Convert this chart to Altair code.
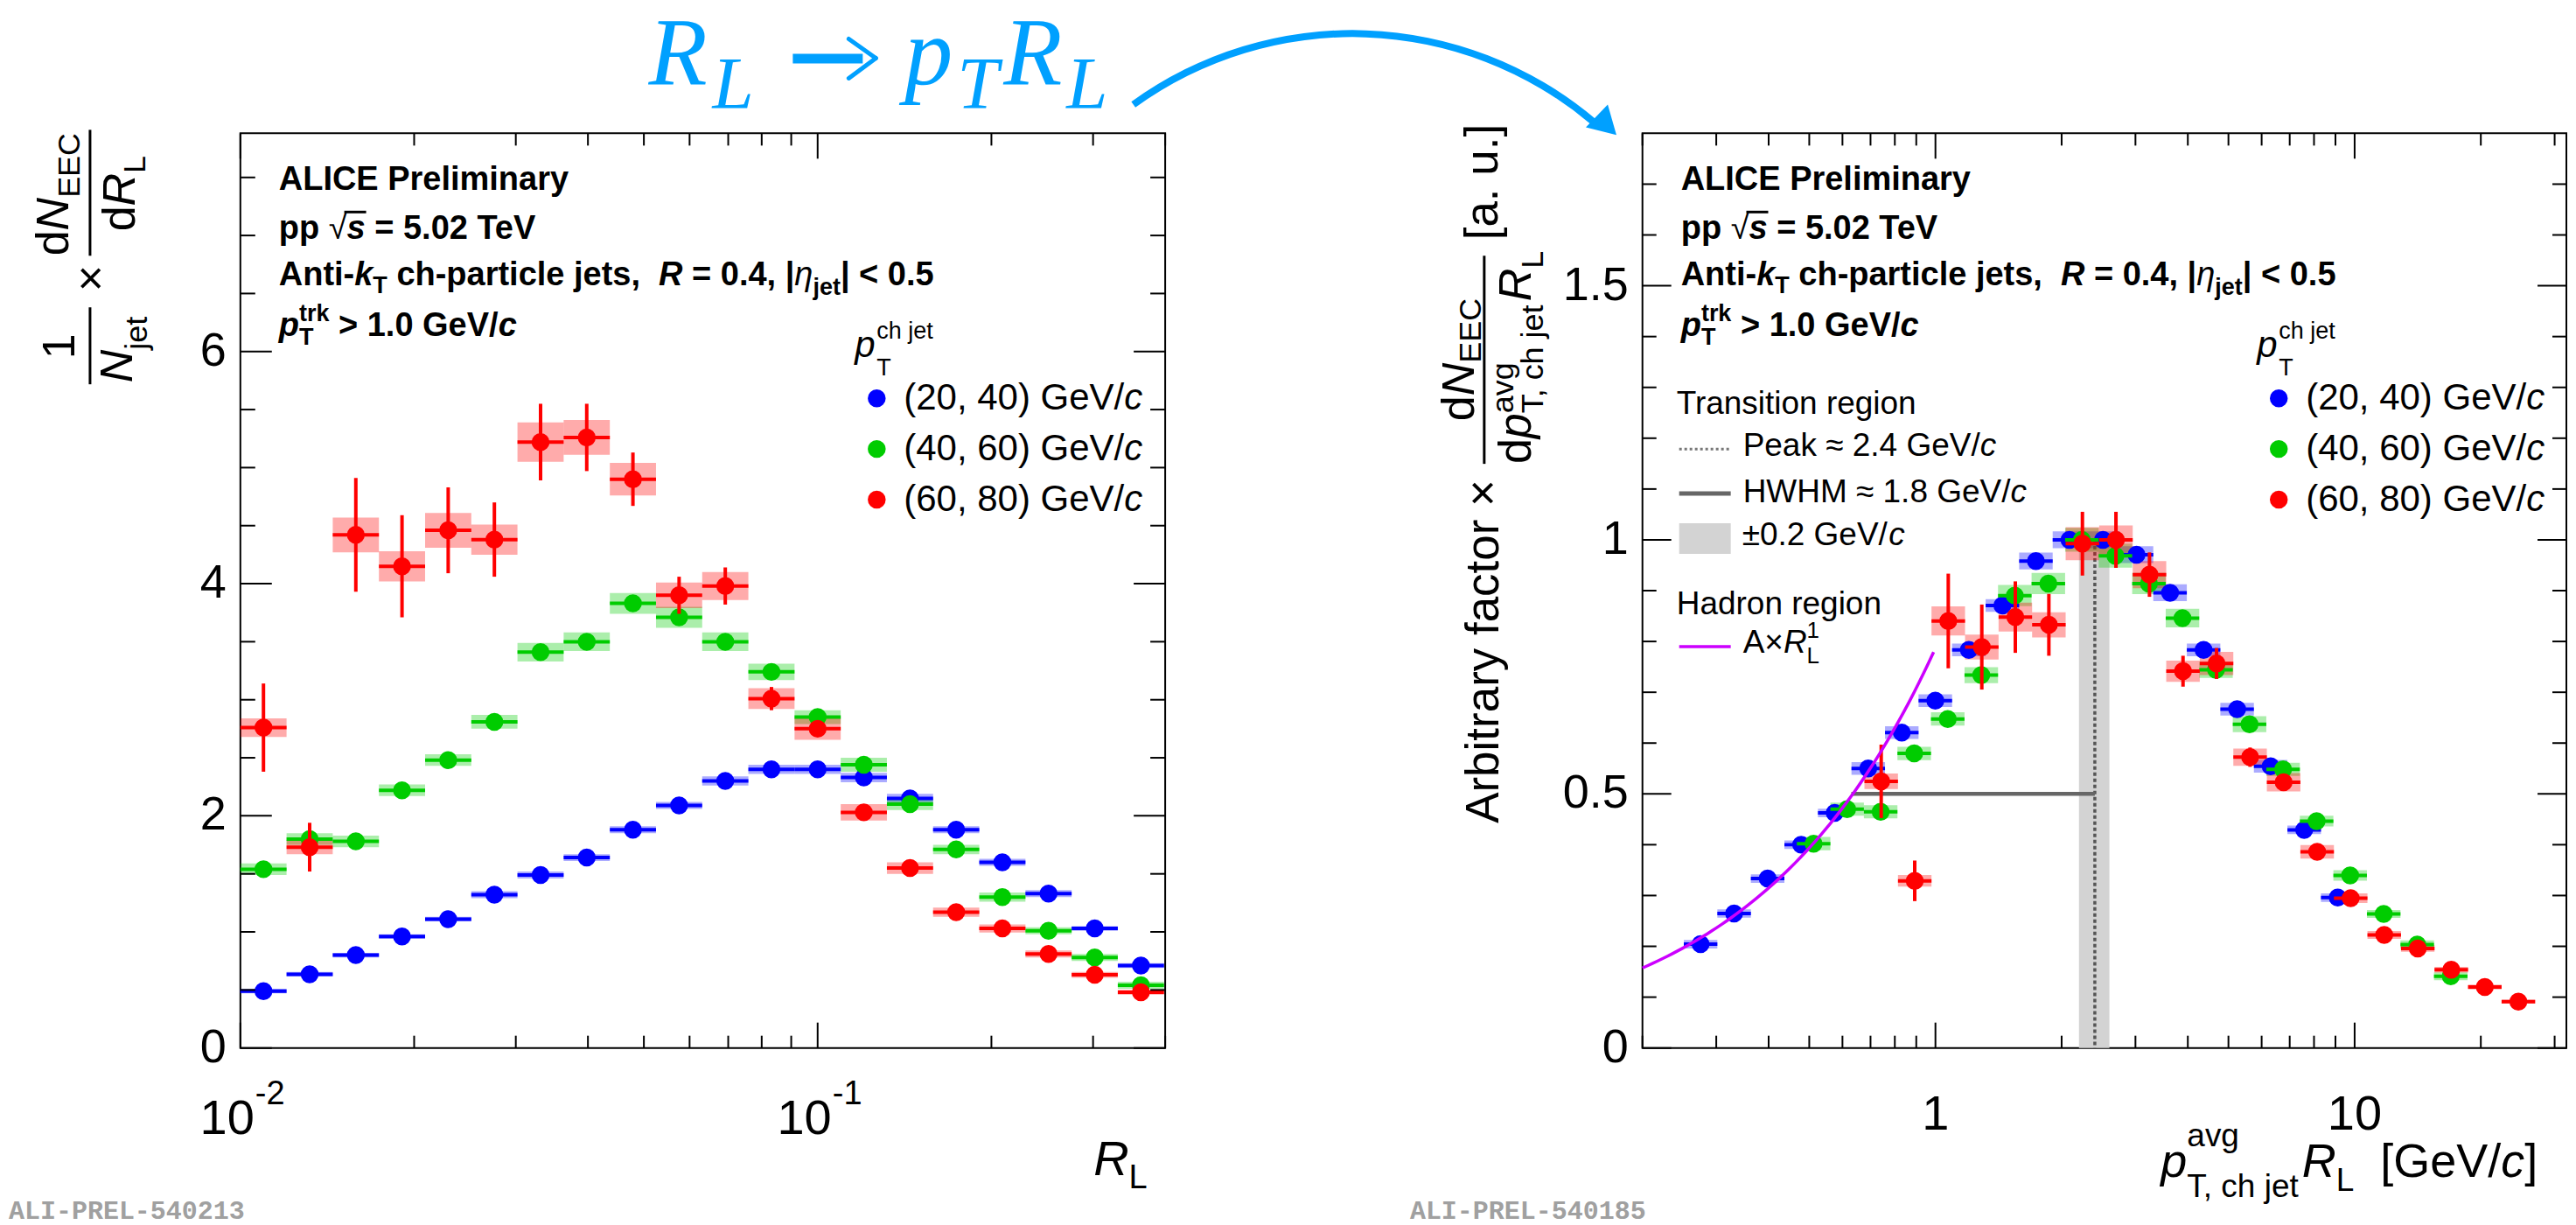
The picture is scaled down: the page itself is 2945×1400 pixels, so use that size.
import altair as alt
import numpy as np
import pandas as pd

# ---------------------------------------------------------------- data
# R_L binning: 20 log-spaced bins (0.08 decades each) from 0.01 to ~0.4
RL_EDGES = [0.010000, 0.012023, 0.014454, 0.017378, 0.020893, 0.025119,
            0.030200, 0.036308, 0.043652, 0.052481, 0.063096, 0.075858,
            0.091201, 0.109648, 0.131826, 0.158489, 0.190546, 0.229087,
            0.275423, 0.331131, 0.398107]

SERIES = ["20-40", "40-60", "60-80"]
SERIES_TEXT = ["(20, 40) GeV/", "(40, 60) GeV/", "(60, 80) GeV/"]
COLORS = ["#0000ff", "#00cc00", "#ff0000"]

# 1/N_jet dN_EEC/dR_L per jet-pT interval
EEC_20_40 = [0.49, 0.635, 0.80, 0.96, 1.11, 1.32, 1.49, 1.64, 1.88, 2.09,
             2.30, 2.40, 2.40, 2.33, 2.15, 1.88, 1.60, 1.33, 1.03, 0.71]
STAT_20_40 = [0.01, 0.01, 0.01, 0.01, 0.01, 0.01, 0.01, 0.01, 0.01, 0.01,
              0.01, 0.01, 0.01, 0.01, 0.01, 0.01, 0.01, 0.01, 0.01, 0.01]
SYS_20_40 = [0.02, 0.02, 0.02, 0.02, 0.02, 0.03, 0.03, 0.03, 0.03, 0.03,
             0.04, 0.04, 0.04, 0.04, 0.04, 0.03, 0.03, 0.03, 0.02, 0.02]

EEC_40_60 = [1.54, 1.80, 1.78, 2.22, 2.48, 2.81, 3.41, 3.50, 3.83, 3.71,
             3.50, 3.24, 2.85, 2.44, 2.10, 1.71, 1.30, 1.01, 0.78, 0.54]
STAT_40_60 = [0.05, 0.03, 0.04, 0.05, 0.05, 0.05, 0.05, 0.04, 0.04, 0.04,
              0.03, 0.03, 0.03, 0.02, 0.02, 0.02, 0.02, 0.01, 0.01, 0.01]
SYS_40_60 = [0.05, 0.05, 0.05, 0.05, 0.05, 0.06, 0.08, 0.08, 0.09, 0.09,
             0.08, 0.07, 0.06, 0.06, 0.05, 0.04, 0.04, 0.03, 0.03, 0.03]

EEC_60_80 = [2.76, 1.73, 4.42, 4.15, 4.46, 4.38, 5.22, 5.26, 4.90, 3.90,
             3.98, 3.01, 2.75, 2.03, 1.55, 1.17, 1.03, 0.81, 0.63, 0.48]
STAT_60_80 = [0.38, 0.21, 0.49, 0.44, 0.37, 0.32, 0.33, 0.29, 0.23, 0.16,
              0.16, 0.10, 0.06, 0.04, 0.03, 0.02, 0.02, 0.02, 0.01, 0.01]
SYS_60_80 = [0.08, 0.06, 0.15, 0.13, 0.15, 0.13, 0.17, 0.15, 0.14, 0.11,
             0.12, 0.09, 0.095, 0.07, 0.05, 0.04, 0.035, 0.03, 0.025, 0.02]

# average jet pT of each interval and the arbitrary normalisation (peak height)
PT_AVG = [25.1, 46.7, 67.7]
PEAK_NORM = [2.40, 3.83, 5.26]

# transition-region markers and hadron-region fit A x R_L
PEAK_POS = 2.4
PEAK_ERR = 0.2
HWHM_LEFT = 0.63
PEAK_BAND_TOP = 1.0
FIT_A = 0.787
FIT_XMAX = 0.99

# ---------------------------------------------------------------- style
SANS = "Liberation Sans"
SERIF = "Liberation Serif"
MONO = "Liberation Mono"
ACCENT = "#00a0ff"

W_L, W_R, H = 1058, 1057, 1046
XS_L = alt.Scale(type="log", domain=[0.01, 0.4], nice=False)
YS_L = alt.Scale(domain=[0, 7.88], nice=False, zero=False)
XS_R = alt.Scale(type="log", domain=[0.2, 32], nice=False)
YS_R = alt.Scale(domain=[0, 1.8], nice=False, zero=False)

# Arial / Liberation Sans advance widths (1/1000 em)
_REG = {' ': 278, '!': 278, '(': 333, ')': 333, ',': 278, '-': 333, '.': 278,
        '/': 278, '<': 584, '=': 584, '>': 584, '[': 278, ']': 278, '|': 260,
        'A': 667, 'B': 667, 'C': 722, 'D': 722, 'E': 667, 'F': 611, 'G': 778,
        'H': 722, 'I': 278, 'J': 500, 'K': 667, 'L': 556, 'M': 833, 'N': 722,
        'O': 778, 'P': 667, 'Q': 778, 'R': 722, 'S': 667, 'T': 611, 'U': 722,
        'V': 667, 'W': 944, 'X': 667, 'Y': 667, 'Z': 611,
        'a': 556, 'b': 556, 'c': 500, 'd': 556, 'e': 556, 'f': 278, 'g': 556,
        'h': 556, 'i': 222, 'j': 222, 'k': 500, 'l': 222, 'm': 833, 'n': 556,
        'o': 556, 'p': 556, 'q': 556, 'r': 333, 's': 500, 't': 278, 'u': 556,
        'v': 500, 'w': 722, 'x': 500, 'y': 500, 'z': 500,
        '×': 584, '≈': 549, '±': 584, '√': 549, 'η': 556}
_BOLD = dict(_REG)
_BOLD.update({'|': 280, 'A': 722, 'L': 611, 'c': 556, 'h': 611, 'i': 278,
              'j': 278, 'k': 556, 'l': 278, 'm': 889, 'n': 611, 'o': 611,
              'p': 611, 'r': 389, 's': 556, 't': 333, 'y': 556, 'u': 611})


def text_width(s, size, bold=False):
    tbl = _BOLD if bold else _REG
    return sum(tbl.get(ch, 556) for ch in s) * size / 1000.0


def rich(x0, y0, parts, angle=0, color="black", family=SANS):
    """Lay out text runs (text, size, bold, italic, shift[, advance])."""
    rows, off = [], 0.0
    for p in parts:
        text, size, bold, italic, shift = p[:5]
        adv = p[5] if len(p) > 5 else None
        lead = len(text) - len(text.lstrip(" "))
        shown = text.strip(" ")
        pos = off + text_width(" " * lead, size, bold)
        if angle == 0:
            x, y = x0 + pos, y0 + shift
        else:
            x, y = x0 + shift, y0 - pos
        if shown:
            rows.append(dict(x=x, y=y, text=shown, size=size,
                             weight="bold" if bold else "normal",
                             style="italic" if italic else "normal",
                             angle=angle, color=color, family=family,
                             align="left", baseline="alphabetic"))
        off += text_width(text, size, bold) if adv is None else adv
    return rows


def text_layers(rows):
    df = pd.DataFrame(rows)
    keys = ["family", "weight", "style", "angle", "color", "align", "baseline"]
    layers = []
    for k, g in df.groupby(keys, sort=False):
        fam, wt, st, ang, col, al, bl = k
        layers.append(
            alt.Chart(g[["x", "y", "text", "size"]].reset_index(drop=True))
            .mark_text(font=str(fam), fontWeight=str(wt), fontStyle=str(st),
                       angle=float(ang), color=str(col), align=str(al),
                       baseline=str(bl))
            .encode(x=alt.X("x:Q", scale=None, axis=None),
                    y=alt.Y("y:Q", scale=None, axis=None),
                    text="text:N",
                    size=alt.Size("size:Q", scale=None, legend=None)))
    return layers


def pixel_rules(rows, color="black", width=2.0, dash=None, cap="butt"):
    kw = dict(color=color, strokeWidth=width, strokeCap=cap)
    if dash:
        kw["strokeDash"] = dash
    return (alt.Chart(pd.DataFrame(rows)).mark_rule(**kw)
            .encode(x=alt.X("x:Q", scale=None, axis=None), x2="x2:Q",
                    y=alt.Y("y:Q", scale=None, axis=None), y2="y2:Q"))


def series_table(values, stats, syss, x_factor, norm):
    rows = []
    for s, ys, st, sy, f, n in zip(SERIES, values, stats, syss, x_factor, norm):
        for i in range(20):
            lo, hi = RL_EDGES[i] * f, RL_EDGES[i + 1] * f
            y = ys[i] / n
            rows.append(dict(series=s, lo=lo, hi=hi, c=(lo * hi) ** 0.5, y=y,
                             slo=y - st[i] / n, shi=y + st[i] / n,
                             blo=y - sy[i] / n, bhi=y + sy[i] / n))
    return pd.DataFrame(rows)


def data_layers(df, xs, ys):
    col = alt.Color("series:N", scale=alt.Scale(domain=SERIES, range=COLORS),
                    legend=None)
    base = alt.Chart(df)
    layers = [base.mark_rect(opacity=0.33).encode(
        x=alt.X("lo:Q", scale=xs, axis=None), x2="hi:Q",
        y=alt.Y("blo:Q", scale=ys, axis=None), y2="bhi:Q", color=col)]
    for s in SERIES:
        sub = base.transform_filter(alt.datum.series == s)
        layers.append(sub.mark_rule(strokeWidth=4).encode(
            x=alt.X("lo:Q", scale=xs, axis=None), x2="hi:Q",
            y=alt.Y("y:Q", scale=ys, axis=None), color=col))
        layers.append(sub.mark_rule(strokeWidth=4).encode(
            x=alt.X("c:Q", scale=xs, axis=None),
            y=alt.Y("slo:Q", scale=ys, axis=None), y2="shi:Q", color=col))
        layers.append(sub.mark_point(filled=True, shape="circle", size=420,
                                     opacity=1).encode(
            x=alt.X("c:Q", scale=xs, axis=None),
            y=alt.Y("y:Q", scale=ys, axis=None), color=col))
    return layers


def tick_layers(xs, ys, w, xmaj, xmin, ymaj, ymin, ylen):
    out = []
    for vals, ln in ((xmaj, 29), (xmin, 14)):
        d = alt.Chart(pd.DataFrame({"v": vals}))
        out.append(d.mark_rule(color="black", strokeWidth=2).encode(
            x=alt.X("v:Q", scale=xs, axis=None), y=alt.value(H), y2=alt.value(H - ln)))
        out.append(d.mark_rule(color="black", strokeWidth=2).encode(
            x=alt.X("v:Q", scale=xs, axis=None), y=alt.value(0), y2=alt.value(ln)))
    for vals, ln in ((ymaj, ylen[0]), (ymin, ylen[1])):
        d = alt.Chart(pd.DataFrame({"v": vals}))
        out.append(d.mark_rule(color="black", strokeWidth=2).encode(
            y=alt.Y("v:Q", scale=ys, axis=None), x=alt.value(0), x2=alt.value(ln)))
        out.append(d.mark_rule(color="black", strokeWidth=2).encode(
            y=alt.Y("v:Q", scale=ys, axis=None), x=alt.value(w), x2=alt.value(w - ln)))
    return out


def y_tick_labels(vals, texts, ys):
    return (alt.Chart(pd.DataFrame({"v": vals, "t": texts}))
            .mark_text(font=SANS, fontSize=54, align="right", baseline="middle")
            .encode(y=alt.Y("v:Q", scale=ys, axis=None), x=alt.value(-16),
                    text="t:N"))


def header_block():
    r = []
    r += rich(44, 65, [("ALICE Preliminary", 38, True, False, 0)])
    r += rich(44, 121, [("pp ", 38, True, False, 0), ("√", 38, False, False, 0),
                        ("s", 38, True, True, 0), (" = 5.02 TeV", 38, True, False, 0)])
    r += rich(44, 174, [("Anti-", 38, True, False, 0), ("k", 38, True, True, 0),
                        ("T", 27, True, False, 9),
                        (" ch-particle jets,  ", 38, True, False, 0),
                        ("R", 38, True, True, 0), (" = 0.4, |", 38, True, False, 0),
                        ("η", 38, False, True, 0), ("jet", 27, True, False, 11),
                        ("| < 0.5", 38, True, False, 0)])
    r += rich(44, 232, [("p", 38, True, True, 0),
                        ("trk", 27, True, False, -17, 0),
                        ("T", 27, True, False, 10, text_width("trk", 27, True)),
                        (" > 1.0 GeV/", 38, True, False, 0), ("c", 38, True, True, 0)])
    # overline of the square root
    s_row = [row for row in r if row["text"] == "s"][0]
    bar = [dict(x=s_row["x"] - 3, x2=s_row["x"] + 22, y=121 - 31, y2=121 - 31)]
    return r, bar


def series_legend():
    r = []
    r += rich(703, 256, [("p", 42, False, True, 0)])
    r += rich(728, 235, [("ch jet", 27, False, False, 0)])
    r += rich(728, 277, [("T", 27, False, False, 0)])
    marks = []
    for k, (txt, col) in enumerate(zip(SERIES_TEXT, COLORS)):
        yc = 303 + 58 * k
        r += rich(759, yc + 13, [(txt, 42, False, False, 0), ("c", 42, False, True, 0)])
        marks.append(dict(x=728, y=yc, c=col))
    pts = (alt.Chart(pd.DataFrame(marks))
           .mark_point(filled=True, shape="circle", size=420, opacity=1)
           .encode(x=alt.X("x:Q", scale=None, axis=None),
                   y=alt.Y("y:Q", scale=None, axis=None),
                   color=alt.Color("c:N", scale=None, legend=None)))
    return r, pts


# ---------------------------------------------------------------- left panel
left_df = series_table([EEC_20_40, EEC_40_60, EEC_60_80],
                       [STAT_20_40, STAT_40_60, STAT_60_80],
                       [SYS_20_40, SYS_40_60, SYS_60_80],
                       [1, 1, 1], [1, 1, 1])

left_rows, left_bar = header_block()
leg_rows, leg_pts = series_legend()
left_rows += leg_rows

# y-axis title: 1/N_jet x dN_EEC/dR_L (rotated)
left_rows += rich(-190, 258, [("1", 52, False, False, 0)], angle=270)
left_rows += rich(-124, 285, [("N", 52, False, True, 0), ("jet", 36, False, False, 17)], angle=270)
left_rows += rich(-154, 181, [("×", 52, False, False, 0)], angle=270)
left_rows += rich(-197, 140, [("d", 52, False, False, 0), ("N", 52, False, True, 0),
                              ("EEC", 36, False, False, 13)], angle=270)
left_rows += rich(-121, 112, [("d", 52, False, False, 0), ("R", 52, False, True, 0),
                              ("L", 36, False, False, 12)], angle=270)
left_bars = left_bar + [dict(x=-172, x2=-172, y=199, y2=287),
                        dict(x=-172, x2=-172, y=-4, y2=140)]

# x-axis title
left_rows += rich(976, 1191, [("R", 56, False, True, 0), ("L", 38, False, False, 15)])

# headline with the variable change
left_rows += rich(467, -55, [("R", 110, False, True, 0)], color=ACCENT, family=SERIF)
left_rows += rich(540, -28, [("L", 85, False, True, 0)], color=ACCENT, family=SERIF)
left_rows += rich(760, -55, [("p", 110, False, True, 0)], color=ACCENT, family=SERIF)
left_rows += rich(820, -28, [("T", 85, False, True, 0)], color=ACCENT, family=SERIF)
left_rows += rich(873, -55, [("R", 110, False, True, 0)], color=ACCENT, family=SERIF)
left_rows += rich(945, -28, [("L", 85, False, True, 0)], color=ACCENT, family=SERIF)
headline_arrow = [
    pixel_rules([dict(x=632, x2=712, y=-85.5, y2=-85.5)], color=ACCENT, width=11),
    pixel_rules([dict(x=696, x2=727, y=-108, y2=-86),
                 dict(x=696, x2=727, y=-63, y2=-86)], color=ACCENT, width=5, cap="round"),
]

left_rows += rich(-265, 1241, [("ALI-PREL-540213", 30, True, False, 0)],
                  color="#a0a0a0", family=MONO)

# invisible frame fixing the overall canvas extent
canvas = alt.Chart(pd.DataFrame({"a": [0]})).mark_rect(opacity=0).encode(
    x=alt.value(-274), x2=alt.value(2945 - 274),
    y=alt.value(-151), y2=alt.value(1400 - 151))

arrow_arc = alt.Chart(pd.DataFrame({"a": [0]})).mark_arc(
    color=ACCENT, radius=423, radius2=431, theta=5.656, theta2=6.983).encode(
    x=alt.value(1272.2), y=alt.value(312.9))
arrow_head = alt.Chart(pd.DataFrame({"a": [0]})).mark_point(
    shape="triangle-up", filled=True, opacity=1, size=1300, angle=134,
    color=ACCENT).encode(x=alt.value(1563), y=alt.value(-9))

x_lab_l = pd.DataFrame({"v": [0.01, 0.1], "t": ["10", "10"], "e": ["-2", "-1"]})
left_xlabels = [
    alt.Chart(x_lab_l).mark_text(font=SANS, fontSize=56, align="right", dx=16)
    .encode(x=alt.X("v:Q", scale=XS_L, axis=None), y=alt.value(1127), text="t:N"),
    alt.Chart(x_lab_l).mark_text(font=SANS, fontSize=38, align="left", dx=17)
    .encode(x=alt.X("v:Q", scale=XS_L, axis=None), y=alt.value(1099), text="e:N"),
]

left = alt.layer(
    canvas,
    *data_layers(left_df, XS_L, YS_L),
    *tick_layers(XS_L, YS_L, W_L, [0.01, 0.1],
                 [0.02, 0.03, 0.04, 0.05, 0.06, 0.07, 0.08, 0.09, 0.2, 0.3, 0.4],
                 [0, 2, 4, 6],
                 [0.5, 1, 1.5, 2.5, 3, 3.5, 4.5, 5, 5.5, 6.5, 7, 7.5], (36, 17)),
    y_tick_labels([0, 2, 4, 6], ["0", "2", "4", "6"], YS_L),
    *left_xlabels,
    pixel_rules(left_bars, width=3),
    *text_layers(left_rows),
    *headline_arrow,
    leg_pts,
    arrow_arc,
    arrow_head,
).properties(width=W_L, height=H)

# ---------------------------------------------------------------- right panel
right_df = series_table([EEC_20_40, EEC_40_60, EEC_60_80],
                        [STAT_20_40, STAT_40_60, STAT_60_80],
                        [SYS_20_40, SYS_40_60, SYS_60_80],
                        PT_AVG, PEAK_NORM)

band = alt.Chart(pd.DataFrame({"a": [PEAK_POS - PEAK_ERR], "b": [PEAK_POS + PEAK_ERR],
                               "t": [PEAK_BAND_TOP]})).mark_rect(color="#d3d3d3").encode(
    x=alt.X("a:Q", scale=XS_R, axis=None), x2="b:Q",
    y=alt.Y("t:Q", scale=YS_R, axis=None), y2=alt.datum(0))
peak_line = alt.Chart(pd.DataFrame({"x": [PEAK_POS], "t": [PEAK_BAND_TOP]})).mark_rule(
    color="#555555", strokeWidth=3.5, strokeDash=[4, 3]).encode(
    x=alt.X("x:Q", scale=XS_R, axis=None),
    y=alt.Y("t:Q", scale=YS_R, axis=None), y2=alt.datum(0))
hwhm_line = alt.Chart(pd.DataFrame({"a": [HWHM_LEFT], "b": [PEAK_POS], "y": [0.5]})).mark_rule(
    color="#666666", strokeWidth=4.5).encode(
    x=alt.X("a:Q", scale=XS_R, axis=None), x2="b:Q",
    y=alt.Y("y:Q", scale=YS_R, axis=None))

fit_x = np.geomspace(0.2, FIT_XMAX, 60)
fit_df = pd.DataFrame({"x": fit_x, "y": FIT_A * fit_x})
fit_line = alt.Chart(fit_df).mark_line(color="#cc00ff", strokeWidth=3.5).encode(
    x=alt.X("x:Q", scale=XS_R, axis=None), y=alt.Y("y:Q", scale=YS_R, axis=None))

right_rows, right_bar = header_block()
leg_rows_r, leg_pts_r = series_legend()
right_rows += leg_rows_r

# transition / hadron region legend
right_rows += rich(39, 321, [("Transition region", 37, False, False, 0)])
right_rows += rich(115, 369, [("Peak ≈ 2.4 GeV/", 37, False, False, 0), ("c", 37, False, True, 0)])
right_rows += rich(115, 422, [("HWHM ≈ 1.8 GeV/", 37, False, False, 0), ("c", 37, False, True, 0)])
right_rows += rich(114, 471, [("±0.2 GeV/", 37, False, False, 0), ("c", 37, False, True, 0)])
right_rows += rich(39, 550, [("Hadron region", 37, False, False, 0)])
right_rows += rich(115, 594, [("A×", 37, False, False, 0), ("R", 37, False, True, 0),
                              ("1", 26, False, False, -17, 0), ("L", 26, False, False, 12)])

leg_box = alt.Chart(pd.DataFrame({"x": [42], "x2": [101], "y": [446], "y2": [481]})).mark_rect(
    color="#d3d3d3").encode(x=alt.X("x:Q", scale=None, axis=None), x2="x2:Q",
                            y=alt.Y("y:Q", scale=None, axis=None), y2="y2:Q")

# y-axis title (rotated)
right_rows += rich(-165, 789, [("Arbitrary factor ×", 53, False, False, 0)], angle=270)
right_rows += rich(-193, 329, [("d", 52, False, False, 0), ("N", 52, False, True, 0),
                               ("EEC", 36, False, False, 8)], angle=270)
right_rows += rich(-128, 378, [("d", 52, False, False, 0), ("p", 52, False, True, 0),
                               ("avg", 36, False, False, -20, 0),
                               ("T, ch jet", 36, False, False, 14),
                               ("R", 52, False, True, 0), ("L", 36, False, False, 14)], angle=270)
right_rows += rich(-166, 122, [("[a. u.]", 53, False, False, 0)], angle=270)
right_bars = right_bar + [dict(x=-181, x2=-181, y=140, y2=378)]

# x-axis title
right_rows += rich(593, 1193, [("p", 54, False, True, 0),
                               ("avg", 37, False, False, -35, 0),
                               ("T, ch jet", 37, False, False, 23),
                               ("R", 54, False, True, 0), ("L", 37, False, False, 16),
                               ("  [GeV/", 54, False, False, 0), ("c", 54, False, True, 0),
                               ("]", 54, False, False, 0)])

right_rows += rich(-266, 1241, [("ALI-PREL-540185", 30, True, False, 0)],
                   color="#a0a0a0", family=MONO)

x_lab_r = pd.DataFrame({"v": [1, 10], "t": ["1", "10"]})
right_xlabels = alt.Chart(x_lab_r).mark_text(font=SANS, fontSize=56, align="center").encode(
    x=alt.X("v:Q", scale=XS_R, axis=None), y=alt.value(1122), text="t:N")

right = alt.layer(
    band,
    peak_line,
    hwhm_line,
    *data_layers(right_df, XS_R, YS_R),
    fit_line,
    *tick_layers(XS_R, YS_R, W_R, [1, 10],
                 [0.2, 0.3, 0.4, 0.5, 0.6, 0.7, 0.8, 0.9, 2, 3, 4, 5, 6, 7, 8, 9, 20, 30],
                 [0, 0.5, 1, 1.5],
                 [0.1, 0.2, 0.3, 0.4, 0.6, 0.7, 0.8, 0.9, 1.1, 1.2, 1.3, 1.4, 1.6, 1.7],
                 (33, 16)),
    y_tick_labels([0, 0.5, 1, 1.5], ["0", "0.5", "1", "1.5"], YS_R),
    right_xlabels,
    leg_box,
    pixel_rules([dict(x=42, x2=101, y=361, y2=361)], color="#777777", width=3, dash=[3, 3]),
    pixel_rules([dict(x=42, x2=101, y=412, y2=412)], color="#666666", width=5),
    pixel_rules([dict(x=42, x2=101, y=587, y2=587)], color="#cc00ff", width=3.5),
    pixel_rules(right_bars, width=3),
    *text_layers(right_rows),
    leg_pts_r,
).properties(width=W_R, height=H)

chart = (alt.hconcat(left, right, spacing=546, bounds="flush")
         .properties(padding=0, background="white")
         .configure_view(stroke="black", strokeWidth=2))

chart.save("out.html", embed_options={"renderer": "svg", "actions": False})
